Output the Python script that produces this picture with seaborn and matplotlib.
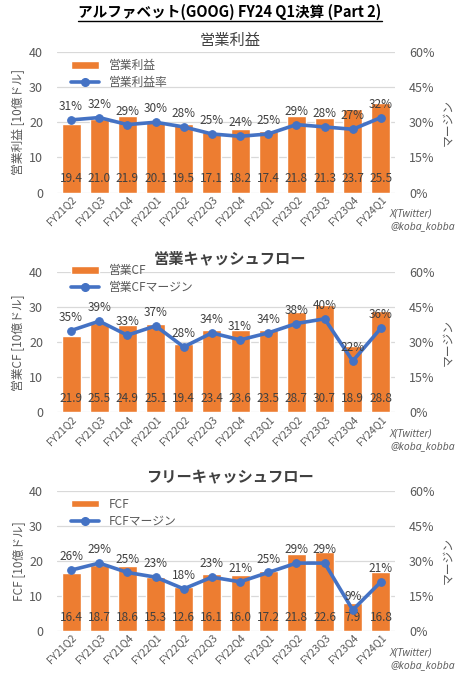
import numpy as np
import pandas as pd
import matplotlib.pyplot as plt
import seaborn as sns
from matplotlib.lines import Line2D

sns.set_style('white')
plt.rcParams['font.family'] = ['Noto Sans CJK JP', 'DejaVu Sans']

# データ
quarters = ['FY21Q2', 'FY21Q3', 'FY21Q4', 'FY22Q1', 'FY22Q2', 'FY22Q3',
            'FY22Q4', 'FY23Q1', 'FY23Q2', 'FY23Q3', 'FY23Q4', 'FY24Q1']
op_income = [19.4, 21.0, 21.9, 20.1, 19.5, 17.1, 18.2, 17.4, 21.8, 21.3, 23.7, 25.5]
op_margin = [31, 32, 29, 30, 28, 25, 24, 25, 29, 28, 27, 32]
op_cf = [21.9, 25.5, 24.9, 25.1, 19.4, 23.4, 23.6, 23.5, 28.7, 30.7, 18.9, 28.8]
op_cf_margin = [35, 39, 33, 37, 28, 34, 31, 34, 38, 40, 22, 36]
fcf = [16.4, 18.7, 18.6, 15.3, 12.6, 16.1, 16.0, 17.2, 21.8, 22.6, 7.9, 16.8]
fcf_margin = [26, 29, 25, 23, 18, 23, 21, 25, 29, 29, 9, 21]

ORANGE = '#ED7D31'
BLUE = '#4472C4'
GRAY = '#595959'
DARK = '#404040'
GRID = '#D9D9D9'

W, H = 460, 680
fig = plt.figure(figsize=(W / 100, H / 100), dpi=100)

# (タイトル, 左軸ラベル, 棒の凡例, 線の凡例, 値, マージン, 軸上端px, タイトルpx, 凡例ずらし, 太字)
panels = [
    ('営業利益', '営業利益 [10億ドル]', '営業利益', '営業利益率', op_income, op_margin, 52, 40, 0, 'normal'),
    ('営業キャッシュフロー', '営業CF [10億ドル]', '営業CF', '営業CFマージン', op_cf, op_cf_margin, 272, 258, 15, 'bold'),
    ('フリーキャッシュフロー', 'FCF [10億ドル]', 'FCF', 'FCFマージン', fcf, fcf_margin, 490.5, 477, 0, 'bold'),
]

left_px, right_px, ax_h_px = 57, 395, 140.5

for title, ylab, bar_lab, line_lab, vals, margins, top_px, title_px, leg_shift, weight in panels:
    df = pd.DataFrame({'quarter': quarters, 'value': vals,
                       'margin': margins, 'pos': range(len(quarters))})
    rect = [left_px / W, 1 - (top_px + ax_h_px) / H, (right_px - left_px) / W, ax_h_px / H]
    ax = fig.add_axes(rect)
    sns.barplot(data=df, x='quarter', y='value', color=ORANGE, saturation=1,
                width=0.68, ax=ax, zorder=2)
    ax.set_ylim(0, 40)
    ax.set_yticks([0, 10, 20, 30, 40])
    ax.set_xlim(-0.5, len(quarters) - 0.5)
    ax.grid(axis='y', color=GRID, lw=0.9, zorder=0)
    ax.set_axisbelow(True)
    for s in ax.spines.values():
        s.set_visible(False)
    ax.tick_params(axis='y', length=0, colors=GRAY, labelsize=9, pad=10)
    ax.tick_params(axis='x', length=0, colors=GRAY, labelsize=7.5, pad=1)
    plt.setp(ax.get_xticklabels(), rotation=45, ha='right', rotation_mode='anchor')
    ax.set_xlabel('')
    ax.set_ylabel(ylab, color=GRAY, fontsize=8.5, labelpad=3)

    for i, v in enumerate(vals):
        ax.text(i, 3.9, f'{v:.1f}', ha='center', va='center', color=DARK, fontsize=8.5, zorder=5)

    ax2 = ax.twinx()
    sns.lineplot(data=df, x='pos', y='margin', ax=ax2, color=BLUE, marker='o',
                 lw=2.6, markersize=5.5, markeredgecolor=BLUE, zorder=4)
    ax2.set_ylim(0, 60)
    ax2.set_yticks([0, 15, 30, 45, 60])
    ax2.set_yticklabels([f'{t}%' for t in [0, 15, 30, 45, 60]])
    ax2.set_xlim(-0.5, len(quarters) - 0.5)
    for s in ax2.spines.values():
        s.set_visible(False)
    ax2.tick_params(axis='y', length=0, colors=GRAY, labelsize=9, pad=10)
    ax2.set_xlabel('')
    ax2.set_ylabel('マージン', color=GRAY, fontsize=8.5, rotation=90, labelpad=5)
    ax2.yaxis.set_label_position('right')

    for i, m in enumerate(margins):
        ax2.annotate(f'{m}%', (i, m), xytext=(0, 5), textcoords='offset points',
                     ha='center', va='bottom', color=DARK, fontsize=8.5, zorder=6)

    bar_handle = ax.containers[0]
    line_handle = Line2D([], [], color=BLUE, lw=2.6, marker='o', markersize=5.5)
    ax2.legend([bar_handle, line_handle], [bar_lab, line_lab], loc='upper left',
               bbox_to_anchor=(0.02, 1.0 + leg_shift / ax_h_px), frameon=False,
               fontsize=8.5, labelcolor=GRAY, handlelength=2.4, handleheight=0.6,
               labelspacing=0.35, borderaxespad=0.2)

    fig.text(0.5, 1 - title_px / H, title, ha='center', va='center',
             fontsize=11, color=DARK, fontweight=weight)

    wm_y = 1 - (top_px + ax_h_px + 28) / H
    fig.text(390 / W, wm_y, 'X(Twitter)\n@koba_kobba', ha='left', va='center',
             fontsize=7.5, color=GRAY, style='italic', linespacing=1.2,
             family=['Open Sans', 'DejaVu Sans'])

# メインタイトル(下線付き)
t = fig.text(0.5, 1 - 12 / H, 'アルファベット(GOOG) FY24 Q1決算 (Part 2)', ha='center',
             va='center', fontsize=10.5, fontweight='bold', color='black')
fig.canvas.draw()
bb = t.get_window_extent().transformed(fig.transFigure.inverted())
fig.add_artist(Line2D([bb.x0, bb.x1], [bb.y0 - 0.002, bb.y0 - 0.002],
                      transform=fig.transFigure, color='black', lw=1))

fig.savefig('out.png', dpi=100)
